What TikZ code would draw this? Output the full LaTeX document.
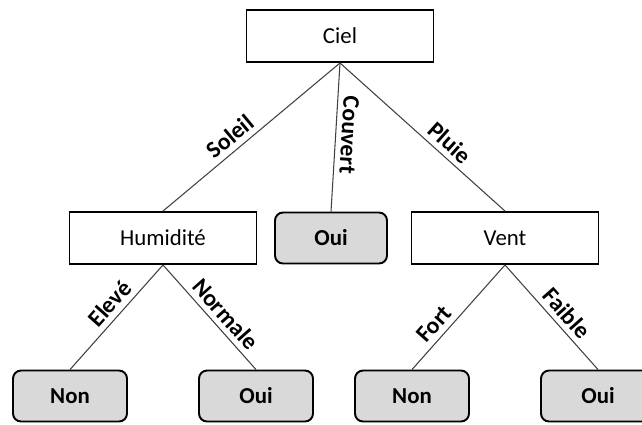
\documentclass[tikz,border=0pt]{standalone}
\usepackage{fontspec}
\setmainfont{Carlito}
\usetikzlibrary{positioning}

\begin{document}
\begin{tikzpicture}[x=0.02cm,y=-0.02cm,
  attr/.style={draw=black,line width=1.1pt,fill=white,minimum width=3.74cm,minimum height=1.04cm,font=\fontsize{13}{15}\selectfont,inner sep=2pt},
  leaf/.style={draw=black,line width=1.1pt,fill=black!15,rounded corners=0.16cm,minimum width=2.28cm,minimum height=1.02cm,font=\fontsize{13}{15}\selectfont\bfseries,inner sep=2pt},
  branch/.style={black!75,line width=0.6pt},
  lbl/.style={sloped,above,text=black,font=\fontsize{13.5}{15}\selectfont\bfseries,inner sep=3pt}]
\useasboundingbox (0,0) rectangle (642,424);
% attribute tests
\node[attr] (ciel) at (340,36) {Ciel};
\node[attr] (hum) at (163,238) {Humidité};
\node[attr] (vent) at (505,238) {Vent};
% leaves
\node[leaf,minimum width=2.24cm] (oui0) at (331,238) {Oui};
\node[leaf] (non1) at (70,396) {Non};
\node[leaf] (oui1) at (256,396) {Oui};
\node[leaf] (non2) at (412,396) {Non};
\node[leaf] (oui2) at (598,396) {Oui};
% branches
\draw[branch] (ciel.south) -- node[lbl,pos=0.57] {Soleil} (hum.north);
\draw[branch] (ciel.south) -- node[lbl,pos=0.48,allow upside down] {Couvert} (oui0.north);
\draw[branch] (ciel.south) -- node[lbl,pos=0.61] {Pluie} (vent.north);
\draw[branch] (hum.south) -- node[lbl,pos=0.46] {Elevé} (non1.north);
\draw[branch] (hum.south) -- node[lbl,pos=0.56] {Normale} (oui1.north);
\draw[branch] (vent.south) -- node[lbl,pos=0.65] {Fort} (non2.north);
\draw[branch] (vent.south) -- node[lbl,pos=0.55] {Faible} (oui2.north);
\end{tikzpicture}
\end{document}
